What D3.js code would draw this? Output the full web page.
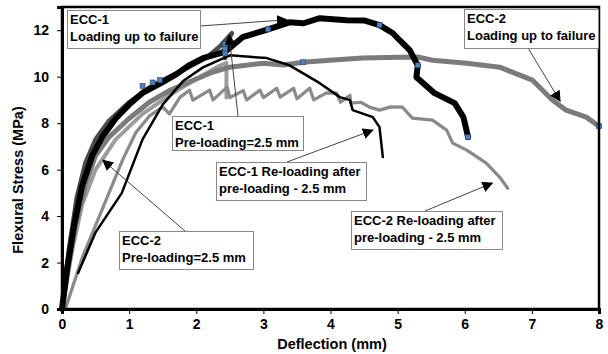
<!DOCTYPE html>
<html>
<head>
<meta charset="utf-8">
<script src="https://cdnjs.cloudflare.com/ajax/libs/d3/7.8.5/d3.min.js"></script>
<style>
  body { margin: 0; background: #fff; }
  text { font-family: "Liberation Sans", Arial, sans-serif; font-weight: bold; }
</style>
</head>
<body>
<div id="chart"></div>
<script>
// deflection (mm) vs flexural stress (MPa)
var ecc1Fail = [[0,0],[0.08,1.8],[0.18,3.6],[0.3,5.3],[0.45,6.6],[0.6,7.4],[0.8,8.2],[1.0,8.8],[1.2,9.3],
  [1.46,9.7],[1.7,10.1],[1.9,10.5],[2.1,10.8],[2.35,11.0],[2.46,11.14],[2.69,11.7],[3.07,12.04],[3.39,12.34],
  [3.6,12.3],[3.84,12.52],[4.24,12.43],[4.5,12.42],[4.73,12.22],[4.93,11.87],[5.03,11.57],[5.18,11.14],
  [5.3,10.49],[5.28,9.98],[5.55,9.29],[5.85,8.86],[5.98,8.26],[6.05,7.4]];
var ecc1Pre = [[0,0],[0.1,2.5],[0.22,4.8],[0.35,6.3],[0.5,7.3],[0.7,8.1],[1.0,8.9],[1.31,9.55],[1.6,10.0],
  [1.8,10.28],[2.16,10.84],[2.35,11.3],[2.53,11.87],[2.45,11.4],[2.43,10.8]];
var ecc1Re = [[0.24,1.55],[0.5,3.3],[0.89,4.99],[1.2,7.3],[1.5,8.8],[1.8,9.8],[2.1,10.4],[2.5,10.92],
  [3.05,10.8],[3.39,10.49],[3.84,9.72],[4.14,9.12],[4.29,8.99],[4.33,8.56],[4.63,8.26],[4.73,7.83],[4.78,6.54]];
var ecc2Fail = [[0,0],[0.08,1.6],[0.2,3.6],[0.35,5.4],[0.5,6.6],[0.7,7.4],[1.0,8.2],[1.3,8.9],[1.6,9.4],
  [2.0,9.9],[2.25,10.2],[2.5,10.41],[2.99,10.58],[3.3,10.5],[3.59,10.62],[3.99,10.71],[4.48,10.8],[5.03,10.84],
  [5.3,10.85],[5.52,10.71],[6.03,10.58],[6.52,10.41],[7.01,9.85],[7.31,8.99],[7.51,8.56],[7.81,8.26],[8.0,7.87]];
var ecc2Pre = [[0,0],[0.15,2.5],[0.3,4.5],[0.5,6.0],[0.8,7.3],[1.2,8.4],[1.6,9.2],[2.0,9.9],[2.3,10.4],
  [2.45,10.6],[2.45,9.1]];
var ecc2Re = [[0.05,0],[0.3,2.2],[0.6,4.3],[0.9,6.4],[1.1,7.6],[1.3,8.3],[1.5,8.7],[1.6,8.4],[1.76,9.12],
  [1.9,9.42],[1.95,8.99],[2.2,9.42],[2.25,9.0],[2.46,9.55],[2.5,9.1],[2.7,9.4],[2.75,9.0],[2.95,9.42],[3.0,9.1],
  [3.2,9.5],[3.25,9.12],[3.45,9.5],[3.5,9.05],[3.69,9.5],[3.75,9.0],[3.94,9.3],[4.09,9.29],[4.15,8.9],[4.29,9.2],
  [4.3,8.86],[4.45,8.9],[4.58,8.69],[4.73,8.56],[4.9,8.7],[5.07,8.69],[5.22,8.22],[5.52,8.13],[5.73,7.7],
  [5.82,7.14],[6.03,6.84],[6.32,6.28],[6.52,5.68],[6.64,5.2]];
// little blue squares sitting on the curves
var markerPts = [[1.2,9.6],[1.35,9.75],[1.46,9.85],[2.43,11.4],[2.43,11.2],[2.43,11.0],[3.07,12.04],
  [3.59,10.62],[4.73,12.22],[5.3,10.49],[6.05,7.4],[8.0,7.87]];

var xTicks = [0,1,2,3,4,5,6,7,8];
var yTicks = [0,2,4,6,8,10,12];
var xTitle = "Deflection (mm)";
var yTitle = "Flexural Stress (MPa)";

var noteText = [
  ["ECC-1", "Loading up to failure"],
  ["ECC-1", "Pre-loading=2.5 mm"],
  ["ECC-1  Re-loading after", "pre-loading - 2.5 mm"],
  ["ECC-2", "Loading up to failure"],
  ["ECC-2", "Pre-loading=2.5 mm"],
  ["ECC-2  Re-loading after", "pre-loading - 2.5 mm"]
];
// arrow tips in data units
var noteTips = [[3.35,12.45],[2.49,11.8],[4.63,7.7],[7.42,8.95],[0.61,6.4],[6.41,5.42]];

var width = 608, height = 354;

var x = d3.scaleLinear().domain([0, 8]).range([62, 599]);
var y = d3.scaleLinear().domain([0, 13]).range([309, 7]);

var svg = d3.select("#chart").append("svg")
    .attr("width", width)
    .attr("height", height);

svg.append("defs").append("marker")
    .attr("id", "arr")
    .attr("viewBox", "0 0 10 10")
    .attr("refX", 9).attr("refY", 5)
    .attr("markerWidth", 11).attr("markerHeight", 11)
    .attr("markerUnits", "userSpaceOnUse")
    .attr("orient", "auto")
  .append("path")
    .attr("d", "M0,0L10,5L0,10z")
    .attr("fill", "#000");

var line = d3.line()
    .x(function(d) { return x(d[0]); })
    .y(function(d) { return y(d[1]); });

// curves, back to front
var curves = [
  {data: ecc2Pre, color: "#9c9c9c", w: 4},
  {data: ecc2Re, color: "#8a8a8a", w: 3.2},
  {data: ecc2Fail, color: "#7b7b7b", w: 5},
  {data: ecc1Pre, color: "#4a4a4a", w: 4.5},
  {data: ecc1Re, color: "#000", w: 2.5},
  {data: ecc1Fail, color: "#000", w: 6}
];

svg.append("g").selectAll("path")
    .data(curves)
    .enter().append("path")
      .attr("d", function(d) { return line(d.data); })
      .attr("fill", "none")
      .attr("stroke", function(d) { return d.color; })
      .attr("stroke-width", function(d) { return d.w; })
      .attr("stroke-linejoin", "round")
      .attr("stroke-linecap", "round");

svg.append("g").selectAll("rect")
    .data(markerPts)
    .enter().append("rect")
      .attr("x", function(d) { return x(d[0]) - 2.5; })
      .attr("y", function(d) { return y(d[1]) - 2.5; })
      .attr("width", 5).attr("height", 5)
      .attr("fill", "#4f81bd")
      .attr("stroke", "#1f3d66")
      .attr("stroke-width", 0.6);

// frame + axes
svg.append("rect")
    .attr("x", x(0)).attr("y", y(13))
    .attr("width", x(8) - x(0)).attr("height", y(0) - y(13))
    .attr("fill", "none").attr("stroke", "#000").attr("stroke-width", 2.5);

var xAxis = svg.append("g")
    .attr("transform", "translate(0," + y(0) + ")")
    .call(d3.axisBottom(x).tickValues(xTicks).tickSize(5).tickPadding(5).tickFormat(d3.format("d")));
var yAxis = svg.append("g")
    .attr("transform", "translate(" + x(0) + ",0)")
    .call(d3.axisLeft(y).tickValues(yTicks).tickSize(5).tickPadding(8).tickFormat(d3.format("d")));

[xAxis, yAxis].forEach(function(a) {
  a.select(".domain").attr("stroke-width", 3);
  a.selectAll(".tick line").attr("stroke-width", 1);
  a.selectAll(".tick text").attr("font-size", 14).attr("font-family", "Liberation Sans, Arial, sans-serif")
      .attr("font-weight", "bold").attr("fill", "#000");
});

svg.append("text")
    .attr("x", 332).attr("y", 349)
    .attr("text-anchor", "middle")
    .attr("font-size", 14.5)
    .text(xTitle);

svg.append("text")
    .attr("transform", "translate(23,180) rotate(-90)")
    .attr("text-anchor", "middle")
    .attr("font-size", 14.5)
    .text(yTitle);

// annotation boxes: [left, top, right, bottom, line start x, line start y]
var boxes = [
  [67, 10, 200, 48, 200, 26],
  [172, 116, 303, 150, 238, 116],
  [216, 162, 366, 200, 287, 162],
  [464, 9, 598, 48, 528, 48],
  [119, 231, 253, 269, 185, 231],
  [351, 211, 502, 249, 425, 211]
];

var notes = svg.append("g");
boxes.forEach(function(b, i) {
  notes.append("line")
      .attr("x1", b[4]).attr("y1", b[5])
      .attr("x2", x(noteTips[i][0])).attr("y2", y(noteTips[i][1]))
      .attr("stroke", "#444").attr("stroke-width", 1)
      .attr("marker-end", "url(#arr)");
});
boxes.forEach(function(b, i) {
  notes.append("rect")
      .attr("x", b[0] + 0.5).attr("y", b[1] + 0.5)
      .attr("width", b[2] - b[0]).attr("height", b[3] - b[1])
      .attr("fill", "#fff").attr("stroke", "#888").attr("stroke-width", 1);
  notes.append("text")
      .attr("x", b[0] + 3).attr("y", b[1] + 14)
      .attr("font-size", 13)
      .text(noteText[i][0]);
  notes.append("text")
      .attr("x", b[0] + 3).attr("y", b[1] + 31)
      .attr("font-size", 13)
      .text(noteText[i][1]);
});
</script>
</body>
</html>
